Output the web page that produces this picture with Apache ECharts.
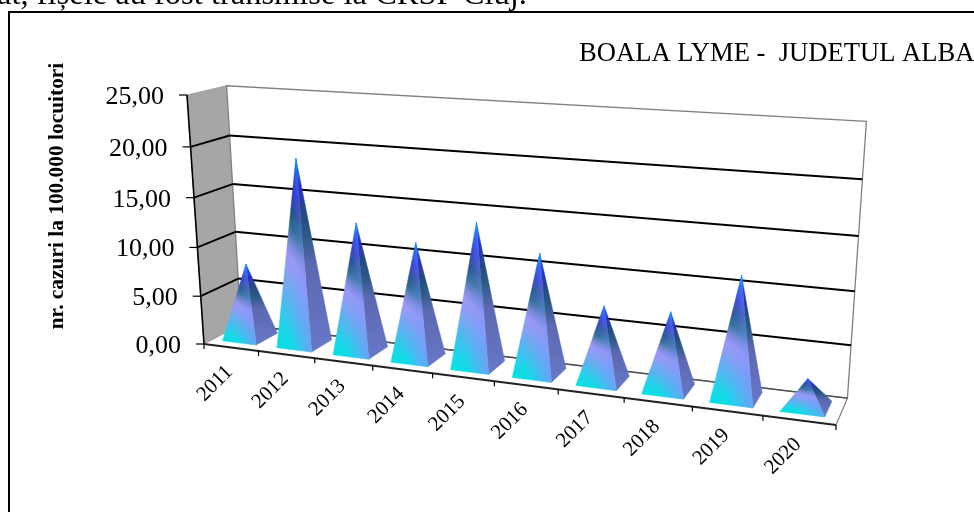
<!DOCTYPE html>
<html>
<head>
<meta charset="utf-8">
<style>html,body{margin:0;padding:0;background:#fff}#c{width:974px;height:512px}</style>
<script src="https://cdn.jsdelivr.net/npm/echarts@6/dist/echarts.min.js"></script>
</head>
<body>
<div id="c"></div>
<script>
var years = ['2011','2012','2013','2014','2015','2016','2017','2018','2019','2020'];
var rates = [7.7,18.9,13.0,11.6,14.1,11.7,7.3,7.4,11.4,2.6];
var tickValues = [0,5,10,15,20,25];
var tickLabels = ['0,00','5,00','10,00','15,00','20,00','25,00'];
var titleText = 'BOALA LYME -  JUDETUL ALBA';
var axisTitle = 'nr. cazuri la 100.000 locuitori';
var pageText = 'at, fișele au fost transmise la CRSP Cluj.';

var FONT = '"Liberation Serif","Times New Roman",serif';
// Camera of the 3D box: floor/wall corners and perspective terms
var A=[204,344],B=[836,425],D=[241,324.5],E=[187,95];
var pa=-0.15,pb=0.045,pc=-0.05;
function project(u,w,v){
  var d=1+pa*u+pb*w+pc*v, r=[];
  for(var k=0;k<2;k++){
    r[k]=(A[k]+(B[k]*(1+pa)-A[k])*u+(D[k]*(1+pb)-A[k])*w+(E[k]*(1+pc)-A[k])*v)/d;
  }
  return r;
}
function toUV(params,api,cat,val){
  var cs=params.coordSys, c=api.coord([cat,val]);
  return [(c[0]-cs.x)/cs.width,(cs.y+cs.height-c[1])/cs.height];
}
function skewGrad(p0,w,h,alpha,stops){
  var gx=alpha/w, gy=-(1-alpha/2)/h, n=gx*gx+gy*gy;
  return new echarts.graphic.LinearGradient(p0[0],p0[1],p0[0]+gx/n,p0[1]+gy/n,stops,true);
}
var frontStops=[
 {offset:0,color:'#00e0e0'},{offset:0.12,color:'#18d8e8'},{offset:0.28,color:'#55b5f0'},
 {offset:0.42,color:'#8a9ff5'},{offset:0.5,color:'#9a98f6'},{offset:0.56,color:'#7c8ad8'},
 {offset:0.64,color:'#2f6f95'},{offset:0.72,color:'#26508f'},{offset:0.82,color:'#3038d0'},
 {offset:0.92,color:'#1a58e8'},{offset:1,color:'#0088ff'}];
var sideStops=[
 {offset:0,color:'#6878c8'},{offset:0.45,color:'#5c68b0'},{offset:0.6,color:'#2c5a88'},
 {offset:0.72,color:'#244a80'},{offset:0.85,color:'#2c30c0'},{offset:1,color:'#0080ff'}];
var sheenStops=[
 {offset:0,color:'rgba(120,150,250,0)'},{offset:0.45,color:'rgba(120,150,250,0)'},
 {offset:1,color:'rgba(125,150,250,0.7)'}];

function poly(points,fill,stroke,lw){
  return {type:'polygon',shape:{points:points},style:{fill:fill,stroke:stroke||fill,lineWidth:lw==null?0.5:lw}};
}
function line(a,b,color,lw){
  return {type:'line',shape:{x1:a[0],y1:a[1],x2:b[0],y2:b[1]},style:{stroke:color,lineWidth:lw,fill:null}};
}
function renderBox(params,api){
  var ch=[], gray='#808080';
  ch.push(poly([project(0,0,0),project(0,1,0),project(0,1,1),project(0,0,1)],'#a6a6a6','#a0a0a0',1));
  ch.push(poly([project(0,1,0),project(1,1,0),project(1,1,1),project(0,1,1)],'#ffffff',gray,1.3));
  ch.push(line(project(1,0,0),project(1,1,0),gray,1.2));
  ch.push(line(project(0,1,0),project(1,1,0),'#505050',1.4));
  tickValues.forEach(function(val,i){
    var v=toUV(params,api,0,val)[1];
    var f=project(0,0,v),b=project(0,1,v),r=project(1,1,v);
    if(val>0&&val<25){
      ch.push(line(f,b,'#000',2));
      ch.push(line(b,r,'#000',2));
    }
    ch.push(line([f[0]-8,f[1]],f,'#000',1.2));
    ch.push({type:'text',style:{text:tickLabels[i],x:f[0]-23,y:f[1]+2,align:'right',verticalAlign:'middle',
      fill:'#000',font:'26px '+FONT}});
  });
  ch.push(line(project(0,0,0),project(0,0,1),'#000',1.6));
  ch.push(line(project(0,0,0),project(1,0,0),'#222',1.8));
  return {type:'group',children:ch};
}
function renderTicks(params,api){
  var i=api.value(0), uv=toUV(params,api,i,0), band=api.size([1,0])[0]/params.coordSys.width;
  var ch=[], p=project(uv[0]-band/2,0,0);
  ch.push(line(p,[p[0],p[1]+5],'#000',1.2));
  if(i===years.length-1){var q=project(uv[0]+band/2,0,0);ch.push(line(q,[q[0],q[1]+5],'#000',1.2));}
  var c=project(uv[0],0,0);
  ch.push({type:'text',x:c[0]-16,y:c[1]+36,rotation:Math.PI/4,
    style:{text:years[i],x:0,y:0,align:'center',verticalAlign:'middle',fill:'#000',font:'21px '+FONT}});
  return {type:'group',children:ch};
}
function renderPyramid(params,api){
  var i=api.value(0), val=api.value(1), uv=toUV(params,api,i,val);
  var band=api.size([1,0])[0]/params.coordSys.width, hw=band*0.31;
  var w0=0.22,w1=0.82;
  var FL=project(uv[0]-hw,w0,0),FR=project(uv[0]+hw,w0,0),RB=project(uv[0]+hw,w1,0);
  var top=project(uv[0],(w0+w1)/2,uv[1]);
  var w=FR[0]-FL[0],h=Math.max(FL[1],FR[1])-top[1];
  return {type:'group',children:[
    poly([FR,RB,top],skewGrad([FR[0],FR[1]],RB[0]-FR[0],FR[1]-top[1],0.0,sideStops)),
    poly([FL,FR,top],skewGrad([FL[0],FL[1]],w,h,0.22,frontStops)),
    {type:'polygon',shape:{points:[FL,FR,top]},style:{
      fill:new echarts.graphic.LinearGradient(FL[0],0,FR[0],0,sheenStops,true)}}
  ]};
}
var chart=echarts.init(document.getElementById('c'),null,{renderer:'canvas'});
chart.setOption({
  animation:false,
  backgroundColor:'#fff',
  title:{text:titleText,left:579,top:41,padding:0,textStyle:{fontFamily:FONT,fontSize:26.6,fontWeight:'normal',color:'#000'}},
  grid:{left:204,top:95,width:632,height:249},
  xAxis:{type:'category',data:years,show:false},
  yAxis:{type:'value',min:0,max:25,interval:5,show:false},
  graphic:[
    {type:'rect',shape:{x:9,y:12,width:1000,height:600},style:{fill:null,stroke:'#000',lineWidth:2},silent:true,z:0},
    {type:'text',x:-3,y:-21,style:{text:pageText,font:'32.5px '+FONT,fill:'#000'},silent:true},
    {type:'text',x:57,y:196,rotation:Math.PI/2,style:{text:axisTitle,font:'bold 21.4px '+FONT,fill:'#000',align:'center',verticalAlign:'middle'},silent:true}
  ],
  series:[
    {type:'custom',name:'box',coordinateSystem:'cartesian2d',clip:false,silent:true,z:2,data:[[0,0]],renderItem:renderBox},
    {type:'custom',name:'ticks',coordinateSystem:'cartesian2d',clip:false,silent:true,z:3,
      data:years.map(function(y,i){return [i,0];}),renderItem:renderTicks},
    {type:'custom',name:'nr. cazuri',coordinateSystem:'cartesian2d',clip:false,silent:true,z:4,
      encode:{x:0,y:1},data:rates.map(function(r,i){return [i,r];}),renderItem:renderPyramid}
  ]
});
</script>
</body>
</html>
